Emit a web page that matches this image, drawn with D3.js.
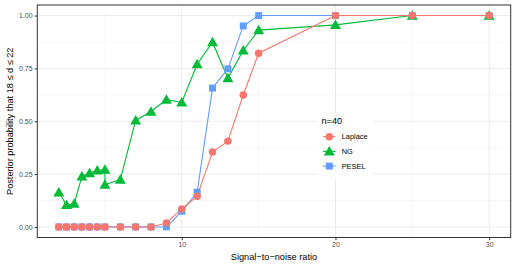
<!DOCTYPE html>
<html>
<head>
<meta charset="utf-8">
<script src="https://cdn.jsdelivr.net/npm/d3@7"></script>
<style>
  body { margin: 0; background: #fff; }
  svg { display: block; font-family: "Liberation Sans", Arial, sans-serif; }
</style>
</head>
<body>
<svg width="515" height="266"></svg>
<script>
// signal-to-noise ratios
const snr = [2, 2.5, 3, 3.5, 4, 4.5, 5, 6, 7, 8, 9, 10, 11, 12, 13, 14, 15, 20, 25, 30];
const snrNG = [2, 2.5, 3, 3.5, 4, 4.5, 5, 5, 6, 7, 8, 9, 10, 11, 12, 13, 14, 15, 20, 25, 30];

const laplace = [0, 0, 0, 0, 0, 0, 0, 0, 0, 0, 0.019, 0.085, 0.145, 0.354, 0.406, 0.624, 0.822, 1, 1, 1];
const ng = [0.164, 0.104, 0.11, 0.239, 0.255, 0.268, 0.271, 0.2, 0.224, 0.504, 0.546, 0.602, 0.589, 0.77, 0.874, 0.704, 0.835, 0.931, 0.956, 1, 1];
const pesel = [0, 0, 0, 0, 0, 0, 0, 0, 0, 0, 0, 0.074, 0.164, 0.657, 0.748, 0.951, 1, 1, 1, 1];

const methods = ["Laplace", "NG", "PESEL"];
const xTicks = [10, 20, 30];
const yTicks = [0, 0.25, 0.5, 0.75, 1];

const width = 515, height = 266;
const margin = { top: 5, right: 4.3, bottom: 28.5, left: 37.3 };

const svg = d3.select("svg");

const x = d3.scaleLinear().domain([0.6, 31.4]).range([margin.left, width - margin.right]);
const y = d3.scaleLinear().domain([-0.05, 1.05]).range([height - margin.bottom, margin.top]);

const color = d3.scaleOrdinal().domain(methods).range(["#F8766D", "#00BA38", "#619CFF"]);
const shape = d3.scaleOrdinal().domain(methods).range([d3.symbolCircle, d3.symbolTriangle, d3.symbolSquare]);
const symSize = { "Laplace": 44, "NG": 52, "PESEL": 48 };

// drawn PESEL first, Laplace on top (as in the original)
const series = [
  { name: "PESEL", values: snr.map((s, i) => ({ x: s, y: pesel[i] })) },
  { name: "NG", values: snrNG.map((s, i) => ({ x: s, y: ng[i] })) },
  { name: "Laplace", values: snr.map((s, i) => ({ x: s, y: laplace[i] })) }
];

// grid
const grid = svg.append("g");
const xMinor = [5, 15, 25];
const yMinor = [0.125, 0.375, 0.625, 0.875];
grid.selectAll(".xminor").data(xMinor).enter().append("line")
  .attr("x1", d => x(d)).attr("x2", d => x(d))
  .attr("y1", y.range()[0]).attr("y2", y.range()[1])
  .attr("stroke", "#F2F2F2").attr("stroke-width", 0.6);
grid.selectAll(".yminor").data(yMinor).enter().append("line")
  .attr("y1", d => y(d)).attr("y2", d => y(d))
  .attr("x1", x.range()[0]).attr("x2", x.range()[1])
  .attr("stroke", "#F2F2F2").attr("stroke-width", 0.6);
grid.selectAll(".xmajor").data(xTicks).enter().append("line")
  .attr("x1", d => x(d)).attr("x2", d => x(d))
  .attr("y1", y.range()[0]).attr("y2", y.range()[1])
  .attr("stroke", "#EBEBEB").attr("stroke-width", 1);
grid.selectAll(".ymajor").data(yTicks).enter().append("line")
  .attr("y1", d => y(d)).attr("y2", d => y(d))
  .attr("x1", x.range()[0]).attr("x2", x.range()[1])
  .attr("stroke", "#EBEBEB").attr("stroke-width", 1);

// lines
const line = d3.line().x(d => x(d.x)).y(d => y(d.y));
svg.selectAll(".series").data(series).enter().append("path")
  .attr("d", d => line(d.values))
  .attr("fill", "none")
  .attr("stroke", d => color(d.name))
  .attr("stroke-width", 1.1);

// points
series.forEach(s => {
  svg.selectAll(null).data(s.values).enter().append("path")
    .attr("transform", d => `translate(${x(d.x)},${y(d.y) + (s.name === "NG" ? 1 : 0)})`)
    .attr("d", d3.symbol().type(shape(s.name)).size(symSize[s.name]))
    .attr("fill", color(s.name));
});

// axes
const xAxis = d3.axisBottom(x).tickValues(xTicks).tickSize(2.7).tickPadding(2);
const yAxis = d3.axisLeft(y).tickValues(yTicks).tickFormat(d3.format(".2f")).tickSize(2.7).tickPadding(2);

const gx = svg.append("g").attr("transform", `translate(0,${y.range()[0]})`).call(xAxis);
const gy = svg.append("g").attr("transform", `translate(${x.range()[0]},0)`).call(yAxis);
[gx, gy].forEach(g => {
  g.select(".domain").remove();
  g.selectAll(".tick line").attr("stroke", "#333333");
  g.selectAll(".tick text").attr("fill", "#4D4D4D").style("font-size", "7px")
    .style("font-family", "'Liberation Sans', Arial, sans-serif");
});

// panel border
svg.append("rect")
  .attr("x", x.range()[0]).attr("y", y.range()[1])
  .attr("width", x.range()[1] - x.range()[0])
  .attr("height", y.range()[0] - y.range()[1])
  .attr("fill", "none").attr("stroke", "#333333").attr("stroke-width", 1);

// axis titles
svg.append("text")
  .attr("x", (x.range()[0] + x.range()[1]) / 2)
  .attr("y", 259.5)
  .attr("text-anchor", "middle")
  .style("font-size", "9.2px")
  .attr("fill", "#000")
  .text("Signal\u2212to\u2212noise ratio");

svg.append("text")
  .attr("transform", `translate(13,${(y.range()[0] + y.range()[1]) / 2}) rotate(-90)`)
  .attr("text-anchor", "middle")
  .style("font-size", "9.2px")
  .attr("fill", "#000")
  .text("Posterior probability that 18 \u2264 d \u2264 22");

// legend
const legend = svg.append("g").attr("transform", "translate(317,113)");
legend.append("rect")
  .attr("width", 56).attr("height", 64).attr("fill", "#fff");
legend.append("text")
  .attr("x", 4.5).attr("y", 10.5)
  .style("font-size", "9.2px").attr("fill", "#000")
  .text("n=40");
methods.forEach((m, i) => {
  const cy = 23.7 + i * 14.7;
  legend.append("line")
    .attr("x1", 6).attr("x2", 18.5).attr("y1", cy).attr("y2", cy)
    .attr("stroke", color(m)).attr("stroke-width", 1.1);
  legend.append("path")
    .attr("transform", `translate(12.3,${cy + (m === "NG" ? 1 : 0)})`)
    .attr("d", d3.symbol().type(shape(m)).size(symSize[m]))
    .attr("fill", color(m));
  legend.append("text")
    .attr("x", 24.7).attr("y", cy + 2.6)
    .style("font-size", "7.4px").attr("fill", "#000")
    .text(m);
});
</script>
</body>
</html>
